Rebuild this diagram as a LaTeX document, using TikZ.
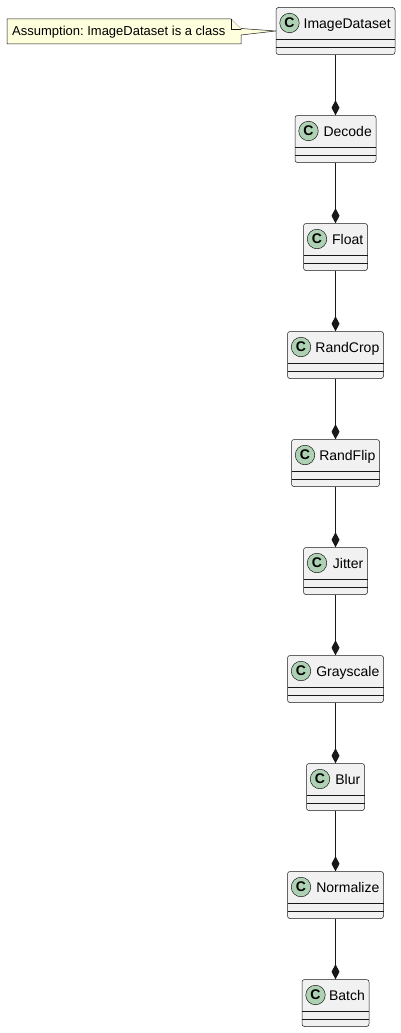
\documentclass[tikz,border=0pt]{standalone}
\usepackage{fontspec}
\setmainfont{Liberation Sans}
\usetikzlibrary{arrows.meta}
\definecolor{bdr}{HTML}{181818}
\definecolor{boxfill}{HTML}{F1F1F1}
\definecolor{circfill}{HTML}{ADD1B2}
\definecolor{notefill}{HTML}{FEFFDD}
\frenchspacing
\tikzset{
  classbox/.style={draw=bdr, fill=boxfill, line width=0.5pt, rounded corners=2.5pt, minimum height=47pt, inner sep=0pt},
  divider/.style={draw=bdr, line width=0.5pt},
  circ/.style={circle, draw=bdr, fill=circfill, line width=0.5pt, minimum size=19.5pt, inner sep=0pt, font=\fontsize{14pt}{14pt}\selectfont\bfseries},
  cname/.style={anchor=base east, inner sep=0pt, font=\fontsize{14pt}{16pt}\selectfont},
  comp/.style={draw=bdr, line width=0.9pt, -{Diamond[length=15pt,width=8pt,fill=bdr]}},
  notebody/.style={draw=bdr, fill=notefill, line width=0.5pt, line join=miter},
  notetext/.style={anchor=base west, inner sep=0pt, font=\fontsize{13pt}{15pt}\selectfont}
}
\begin{document}
\begin{tikzpicture}[x=1pt,y=-1pt]
\useasboundingbox (0,0) rectangle (400,1033);
% classes
\foreach \n/\w [count=\i from 0] in {ImageDataset/119,Decode/81,Float/64,RandCrop/96,RandFlip/88,Jitter/64,Grayscale/96,Blur/58,Normalize/96,Batch/67} {
  \pgfmathsetmacro\t{7.5+108*\i}
  \pgfmathsetmacro\l{335.5-\w/2}
  \pgfmathsetmacro\r{335.5+\w/2}
  \node[classbox, minimum width=\w pt] (\n) at (335.5,\t+23.5) {};
  \draw[divider] (\l,\t+32) -- (\r,\t+32);
  \draw[divider] (\l,\t+40) -- (\r,\t+40);
  \node[circ] (\n-c) at (\l+13.5,\t+15.5) {C};
  \node[cname] (\n-t) at (\r-4,\t+21) {\n};
}
% composition connectors
\foreach \a/\b in {ImageDataset/Decode,Decode/Float,Float/RandCrop,RandCrop/RandFlip,RandFlip/Jitter,Jitter/Grayscale,Grayscale/Blur,Blur/Normalize,Normalize/Batch} {
  \draw[comp] (\a.south) -- (\b.north);
}
% note
\coordinate (tip) at (ImageDataset.west |- 0,31);
\filldraw[notebody] (7,19) -- (231,19) -- (241,29) -- (241,28.5) -- (tip) -- (241,35) -- (241,44) -- (7,44) -- cycle;
\draw[notebody] (231,19) -- (231,29) -- (241,29);
\node[notetext] (note) at (12,36) {Assumption: ImageDataset is a class};
\end{tikzpicture}
\end{document}
